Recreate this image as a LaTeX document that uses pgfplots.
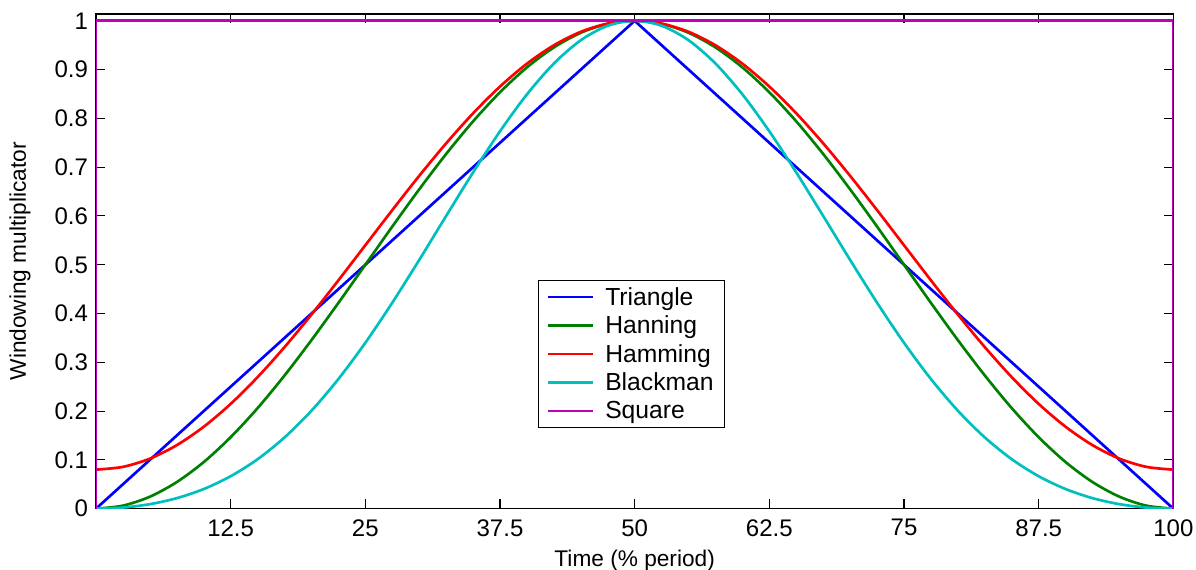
\documentclass[border=0pt]{standalone}
\usepackage{pgfplots}
\usepackage{pgfplotstable}
\pgfplotsset{compat=1.18}
\usepackage{fontspec}
\setmainfont{Liberation Sans}

\definecolor{mblue}{RGB}{0,0,255}
\definecolor{mgreen}{RGB}{0,128,0}
\definecolor{mred}{RGB}{255,0,0}
\definecolor{mcyan}{RGB}{0,191,191}
\definecolor{mmag}{RGB}{191,0,191}

% window values, time in % of period
\pgfplotstableread{
x     tri   han      ham      bla
0     0     0        0.08     0
2.5   0.05  0.00616  0.08566  0.00224
5     0.1   0.02447  0.10251  0.00919
7.5   0.15  0.05450  0.13014  0.02152
10    0.2   0.09549  0.16785  0.04021
12.5  0.25  0.14645  0.21473  0.06645
15    0.3   0.20611  0.26962  0.10138
17.5  0.35  0.27300  0.33116  0.14598
20    0.4   0.34549  0.39785  0.20077
22.5  0.45  0.42178  0.46804  0.26570
25    0.5   0.5      0.54     0.34
27.5  0.55  0.57822  0.61196  0.42213
30    0.6   0.65451  0.68215  0.50979
32.5  0.65  0.72700  0.74884  0.59997
35    0.7   0.79389  0.81038  0.68917
37.5  0.75  0.85355  0.86527  0.77356
40    0.8   0.90451  0.91215  0.84923
42.5  0.85  0.94550  0.94986  0.91253
45    0.9   0.97553  0.97749  0.96025
47.5  0.95  0.99384  0.99434  0.98993
50    1     1        1        1
52.5  0.95  0.99384  0.99434  0.98993
55    0.9   0.97553  0.97749  0.96025
57.5  0.85  0.94550  0.94986  0.91253
60    0.8   0.90451  0.91215  0.84923
62.5  0.75  0.85355  0.86527  0.77356
65    0.7   0.79389  0.81038  0.68917
67.5  0.65  0.72700  0.74884  0.59997
70    0.6   0.65451  0.68215  0.50979
72.5  0.55  0.57822  0.61196  0.42213
75    0.5   0.5      0.54     0.34
77.5  0.45  0.42178  0.46804  0.26570
80    0.4   0.34549  0.39785  0.20077
82.5  0.35  0.27300  0.33116  0.14598
85    0.3   0.20611  0.26962  0.10138
87.5  0.25  0.14645  0.21473  0.06645
90    0.2   0.09549  0.16785  0.04021
92.5  0.15  0.05450  0.13014  0.02152
95    0.1   0.02447  0.10251  0.00919
97.5  0.05  0.00616  0.08566  0.00224
100   0     0        0.08     0
}\windows

\begin{document}
\begin{tikzpicture}
\begin{axis}[
    at={(0,0)}, anchor=south west,
    scale only axis,
    width=808pt, height=371pt,
    xmin=0, xmax=100,
    ymin=0, ymax=1.014,
    xtick={12.5,25,37.5,50,62.5,75,87.5,100},
    ytick={0,0.1,...,1},
    tick align=inside,
    major tick length=7pt,
    tick style={black, line width=0.8pt},
    axis line style={black, line width=0.8pt},
    font=\fontsize{17}{20}\selectfont,
    tick label style={font=\fontsize{18}{20}\selectfont},
    /pgf/number format/assume math mode=true,
    yticklabel style={xshift=-2.5pt},
    xticklabel style={yshift=-4.5pt},
    xlabel={Time (\% period)},
    ylabel={Windowing multiplicator},
    xlabel style={at={(axis description cs:0.5,0)}, anchor=center, yshift=-39pt},
    ylabel style={at={(axis description cs:-0.0706,0.5)}, anchor=center},
    legend cell align=left,
    legend style={
        at={(0.497,0.313)}, anchor=center,
        draw=black, line width=0.8pt,
        font=\fontsize{18.5}{21}\selectfont,
        row sep=2.5pt, inner xsep=6pt, inner ysep=3pt,
    },
    legend image code/.code={
        \draw[#1, line width=2pt] (0pt,0pt) -- (34pt,0pt);
        \path (40pt,0pt);
    },
    every axis plot/.append style={line width=2pt},
]
\addplot[mblue] table[x=x, y=tri] {\windows};
\addlegendentry{Triangle}
\addplot[mgreen, smooth] table[x=x, y=han] {\windows};
\addlegendentry{Hanning}
\addplot[mred, smooth] table[x=x, y=ham] {\windows};
\addlegendentry{Hamming}
\addplot[mcyan, smooth] table[x=x, y=bla] {\windows};
\addlegendentry{Blackman}
\addplot[mmag] coordinates {(0,0) (0,1) (100,1) (100,0)};
\addlegendentry{Square}
\end{axis}
\pgfresetboundingbox
\path (-72pt,-46pt) rectangle (825pt,381.5pt);
\end{tikzpicture}
\end{document}
